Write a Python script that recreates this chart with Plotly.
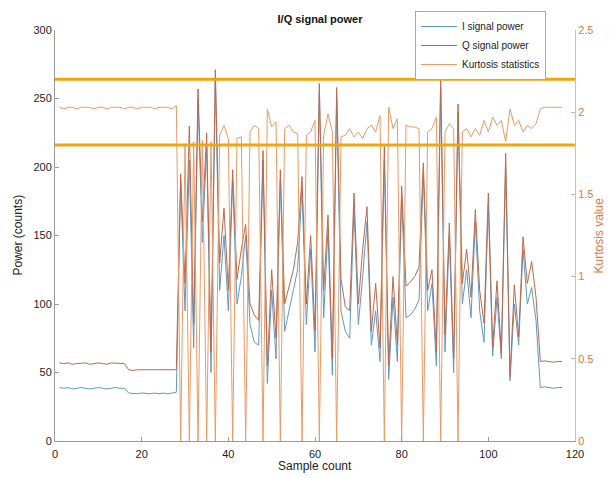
import plotly.graph_objects as go

samples = list(range(1, 118))

i_power = (
    [39, 38.5, 39, 38, 38.5, 39, 38.5, 38, 38.5, 39, 38.5, 38, 38.5, 39, 38.5, 38.5]
    + [35, 34.5, 34.5, 35, 34.5, 34.5, 35, 34.5, 35, 34.5, 35, 35.5]
    + [190, 95, 205, 68, 250, 145, 215, 50, 265, 110, 150, 95, 190, 100, 120, 150,
       85, 72, 70, 205, 42, 110, 60, 190, 80, 95, 110, 125, 185, 85, 140, 65,
       255, 90, 155, 48, 250, 95, 80, 75, 170, 85, 120, 160, 70, 95, 58, 205,
       45, 105, 58, 178, 90, 92, 96, 103, 195, 95, 115, 55, 258, 65, 150, 50,
       240, 100, 125, 90, 160, 95, 72, 172, 62, 105, 60, 200, 44, 100, 70, 140,
       100, 112, 88]
    + [39, 39.5, 39, 38.5, 39, 39]
)

q_power = (
    [57, 56.5, 57, 56, 56.5, 57, 57, 56, 56.5, 57, 56.5, 56, 57, 57, 56.5, 56.5]
    + [52, 51.5, 52, 52, 51.5, 52, 52, 51.5, 52, 52, 51.5, 52]
    + [195, 115, 230, 85, 257, 160, 225, 65, 271, 130, 170, 110, 198, 118, 140, 158,
       100, 92, 88, 212, 55, 125, 75, 198, 100, 112, 125, 145, 193, 100, 150, 80,
       261, 110, 165, 60, 258, 118, 98, 95, 181, 100, 140, 171, 80, 115, 68, 215,
       55, 120, 70, 186, 113, 116, 120, 127, 203, 110, 125, 65, 266, 78, 159, 60,
       246, 115, 140, 105, 169, 110, 86, 181, 69, 117, 64, 210, 47, 114, 76, 149,
       115, 131, 105]
    + [58, 58.5, 58, 57.5, 58, 58]
)

kurtosis = (
    [2.03, 2.02, 2.03, 2.03, 2.02, 2.03, 2.03, 2.03, 2.02, 2.03, 2.03, 2.02, 2.03,
     2.03, 2.03, 2.02, 2.03, 2.03, 2.02, 2.03, 2.03, 2.03, 2.02, 2.03, 2.03, 2.03,
     2.02, 2.04]
    + [0, 1.80, 0, 1.82, 0, 1.83, 0, 1.82, 0, 1.86, 1.92, 1.84, 0, 1.84, 1.85, 0,
       1.88, 1.92, 1.90, 0, 2.02, 1.91, 1.94, 0, 1.90, 1.92, 1.88, 1.87, 0, 1.86,
       1.88, 1.95, 0, 1.86, 1.99, 1.88, 0, 1.85, 1.86, 1.90, 1.85, 1.88, 1.84,
       1.90, 1.92, 1.88, 1.98, 0, 2.03, 1.90, 1.96, 0, 1.92, 1.91, 1.91, 1.90, 0,
       1.88, 1.90, 1.97, 0, 1.88, 1.93, 1.90, 0, 1.88, 1.90, 1.85, 1.90, 1.86,
       1.95, 1.88, 1.97, 1.92, 1.95, 1.82, 2.02, 1.92, 1.95, 1.88, 1.92, 1.90,
       1.93]
    + [2.02, 2.03, 2.03, 2.03, 2.03, 2.03]
)

threshold_levels = [2.2, 1.8]
threshold_x = [0, 120]

x_ticks = [0, 20, 40, 60, 80, 100, 120]
y_ticks = [0, 50, 100, 150, 200, 250, 300]
k_ticks = [0, 0.5, 1, 1.5, 2, 2.5]
k_tick_text = ["0", "0.5", "1", "1.5", "2", "2.5"]

FONT = "Liberation Sans, Arial, sans-serif"
I_COL = "#6198c2"
Q_COL = "#b86a4c"
K_COL = "#ea9a66"
TH_COL = "#f0a50c"
AX_COL = "#9a9a9a"
K_TXT = "#e07a3c"

W, H = 616, 478
ML, MR, MT, MB = 55, 41, 30, 37

fig = go.Figure()
fig.add_trace(go.Scatter(x=samples, y=i_power, mode="lines", name="I signal power",
                         line=dict(color=I_COL, width=1)))
fig.add_trace(go.Scatter(x=samples, y=q_power, mode="lines", name="Q signal power",
                         line=dict(color=Q_COL, width=1)))
fig.add_trace(go.Scatter(x=samples, y=kurtosis, mode="lines", name="Kurtosis statistics",
                         line=dict(color=K_COL, width=1), yaxis="y2"))
for lvl in threshold_levels:
    fig.add_trace(go.Scatter(x=threshold_x, y=[lvl, lvl], mode="lines", showlegend=False,
                             line=dict(color=TH_COL, width=3), yaxis="y2",
                             hoverinfo="skip"))

pw = W - ML - MR
ph = H - MT - MB

fig.update_layout(
    width=W, height=H,
    margin=dict(l=ML, r=MR, t=MT, b=MB, autoexpand=False),
    paper_bgcolor="white", plot_bgcolor="white",
    font=dict(family=FONT, size=11, color="#222222"),
    title=dict(text="<b>I/Q signal power</b>", x=(320 / W), xanchor="center",
               y=1 - 19 / H, yanchor="middle", font=dict(size=11, color="#111111")),
    showlegend=True,
    legend=dict(x=(415 - ML) / pw, y=(H - MB - 11) / ph, xanchor="left", yanchor="top",
                bgcolor="white", bordercolor="#a8a8a8", borderwidth=1,
                font=dict(size=10, color="#222222"), tracegroupgap=0,
                itemwidth=36, traceorder="normal"),
    xaxis=dict(range=[0, 120], tickvals=x_ticks, ticks="inside", ticklen=4,
               tickcolor=AX_COL, showline=True, linecolor=AX_COL, linewidth=1,
               showgrid=False, zeroline=False, automargin=False,
               ticklabelstandoff=3, tickfont=dict(size=11)),
    yaxis=dict(range=[0, 300], tickvals=y_ticks, ticks="inside", ticklen=4,
               tickcolor=AX_COL, showline=True, linecolor=AX_COL, linewidth=1,
               showgrid=False, zeroline=False, automargin=False,
               tickfont=dict(size=11)),
    yaxis2=dict(range=[0, 2.5], tickvals=k_ticks, ticktext=k_tick_text,
                overlaying="y", side="right", ticks="inside", ticklen=4,
                tickcolor="#d9b89a", showline=True, linecolor="#d0c0b0", linewidth=1,
                showgrid=False, zeroline=False, automargin=False,
                tickfont=dict(size=11, color=K_TXT)),
    annotations=[
        dict(text="Sample count", xref="paper", yref="paper", x=0.5, y=-(466 - (H - MB)) / ph,
             xanchor="center", yanchor="middle", showarrow=False,
             font=dict(size=12, color="#222222")),
        dict(text="Power (counts)", xref="paper", yref="paper", x=-(ML - 17) / pw,
             y=0.5, xanchor="center", yanchor="middle", textangle=-90, showarrow=False,
             font=dict(size=12, color="#222222")),
        dict(text="Kurtosis value", xref="paper", yref="paper", x=1 + (598 - (W - MR)) / pw,
             y=0.5, xanchor="center", yanchor="middle", textangle=-90, showarrow=False,
             font=dict(size=12, color=K_TXT)),
    ],
)

fig.write_html("out.html", config={"displayModeBar": False},
               post_script="document.body.style.margin='0';document.body.style.overflow='hidden';")
